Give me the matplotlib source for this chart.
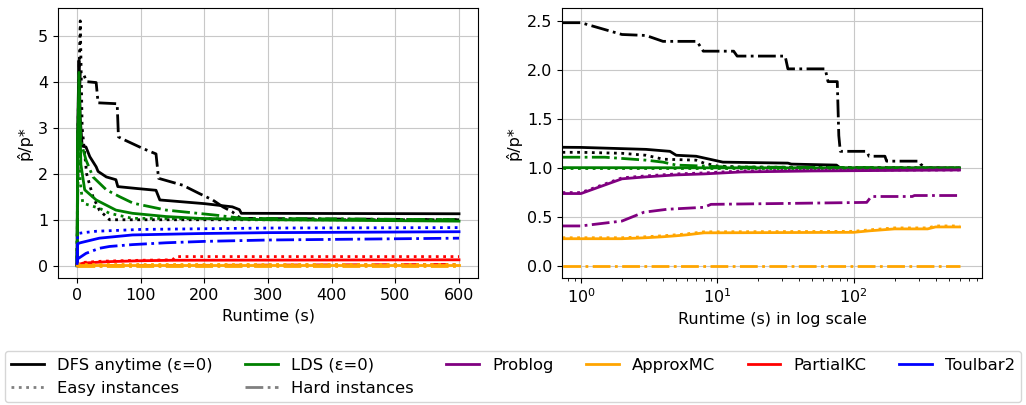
import matplotlib.pyplot as plt
from matplotlib.lines import Line2D

# ---- left panel: runtime in seconds (linear) ----
l_dfs_all_t = [0, 1, 3, 5, 8, 14, 20, 30, 33, 46, 61, 64, 93, 124, 130, 200, 244, 255, 258, 600]
l_dfs_all_v = [0, 3.0, 4.46, 3.2, 2.6, 2.58, 2.37, 2.15, 2.05, 1.93, 1.87, 1.72, 1.68, 1.64, 1.43, 1.35, 1.28, 1.22, 1.14, 1.13]
l_dfs_easy_t = [0, 2, 5, 8, 15, 25, 35, 51, 600]
l_dfs_easy_v = [0, 3.5, 5.32, 3.0, 2.0, 1.5, 1.21, 1.0, 1.0]
l_dfs_hard_t = [0, 2, 5, 10, 15, 30, 33, 63, 65, 72, 103, 124, 128, 166, 192, 213, 229, 244, 257, 600]
l_dfs_hard_v = [0, 3.0, 4.2, 4.17, 4.0, 3.98, 3.54, 3.52, 2.80, 2.75, 2.55, 2.43, 1.9, 1.75, 1.57, 1.43, 1.28, 1.17, 1.03, 1.0]

l_lds_all_t = [0, 1, 3, 6, 12, 30, 61, 87, 140, 192, 300, 600]
l_lds_all_v = [0, 2.5, 4.2, 2.2, 1.65, 1.43, 1.21, 1.14, 1.07, 1.03, 1.0, 0.97]
l_lds_easy_t = [0, 1, 3, 5, 9, 35, 51, 87, 600]
l_lds_easy_v = [0, 2.0, 3.6, 1.8, 1.36, 1.25, 1.14, 1.03, 1.0]
l_lds_hard_t = [0, 1, 3, 6, 14, 25, 46, 67, 88, 140, 218, 260, 600]
l_lds_hard_v = [0, 2.8, 3.5, 2.7, 2.3, 1.93, 1.65, 1.5, 1.36, 1.21, 1.1, 1.03, 1.0]

l_amc_all_t = [0, 600]
l_amc_all_v = [0.02, 0.02]
l_amc_easy_t = [0, 600]
l_amc_easy_v = [0.03, 0.03]
l_amc_hard_t = [0, 600]
l_amc_hard_v = [0.0, 0.0]

l_pkc_all_t = [0, 10, 50, 100, 150, 600]
l_pkc_all_v = [0.02, 0.06, 0.09, 0.11, 0.12, 0.13]
l_pkc_easy_t = [0, 5, 40, 100, 150, 155, 600]
l_pkc_easy_v = [0.03, 0.07, 0.10, 0.12, 0.13, 0.2, 0.2]
l_pkc_hard_t = [0, 600]
l_pkc_hard_v = [0.0, 0.03]

l_tb2_all_t = [0, 1, 5, 14, 35, 87, 192, 300, 600]
l_tb2_all_v = [0.05, 0.48, 0.50, 0.53, 0.60, 0.67, 0.70, 0.72, 0.74]
l_tb2_easy_t = [0, 1, 10, 30, 100, 300, 600]
l_tb2_easy_v = [0.1, 0.70, 0.72, 0.75, 0.79, 0.82, 0.83]
l_tb2_hard_t = [0, 1, 14, 35, 51, 87, 140, 200, 300, 600]
l_tb2_hard_v = [0.05, 0.15, 0.27, 0.38, 0.42, 0.46, 0.50, 0.53, 0.56, 0.60]

# ---- right panel: runtime in seconds (log) ----
r_dfs_all_t = [0.1, 1, 3, 4.5, 5, 7, 11, 33, 35, 75, 80, 600]
r_dfs_all_v = [1.22, 1.21, 1.19, 1.17, 1.13, 1.12, 1.06, 1.05, 1.04, 1.03, 1.0, 1.0]
r_dfs_easy_t = [0.1, 1, 2, 3, 4, 7, 8, 10, 15, 600]
r_dfs_easy_v = [1.16, 1.16, 1.15, 1.13, 1.09, 1.08, 1.05, 1.02, 1.01, 1.0]
r_dfs_hard_t = [0.1, 1, 2, 3, 4, 7.1, 7.9, 13.2, 14, 31.5, 33, 62, 65, 76, 78, 80, 125, 130, 170, 175, 300, 310, 340, 600]
r_dfs_hard_v = [2.48, 2.48, 2.36, 2.35, 2.29, 2.29, 2.19, 2.19, 2.14, 2.14, 2.01, 2.01, 1.88, 1.88, 1.33, 1.17, 1.17, 1.12, 1.12, 1.07, 1.07, 1.04, 1.0, 1.0]

r_lds_all_t = [0.1, 600]
r_lds_all_v = [1.005, 1.0]
r_lds_easy_t = [0.1, 600]
r_lds_easy_v = [1.0, 1.0]
r_lds_hard_t = [0.1, 1.5, 3, 4, 5, 8, 12, 600]
r_lds_hard_v = [1.11, 1.11, 1.08, 1.06, 1.03, 1.02, 1.01, 1.0]

r_pb_all_t = [0.1, 1, 2, 3, 5, 8, 15, 50, 600]
r_pb_all_v = [0.74, 0.74, 0.89, 0.91, 0.93, 0.94, 0.96, 0.97, 0.98]
r_pb_easy_t = [0.1, 1, 2, 3, 5, 8, 15, 50, 600]
r_pb_easy_v = [0.75, 0.75, 0.90, 0.92, 0.94, 0.95, 0.97, 0.98, 0.98]
r_pb_hard_t = [0.1, 1, 2, 2.9, 4.3, 8, 9, 35, 125, 135, 270, 280, 600]
r_pb_hard_v = [0.41, 0.41, 0.46, 0.55, 0.58, 0.60, 0.63, 0.64, 0.65, 0.71, 0.71, 0.72, 0.72]

r_amc_all_t = [0.1, 2, 3, 4, 5, 6, 8, 100, 130, 200, 350, 400, 600]
r_amc_all_v = [0.28, 0.28, 0.29, 0.30, 0.31, 0.32, 0.34, 0.345, 0.36, 0.38, 0.38, 0.40, 0.40]
r_amc_easy_t = [0.1, 2, 3, 4, 5, 6, 8, 100, 130, 200, 350, 400, 600]
r_amc_easy_v = [0.29, 0.29, 0.30, 0.31, 0.32, 0.33, 0.35, 0.355, 0.37, 0.39, 0.39, 0.41, 0.41]
r_amc_hard_t = [0.1, 600]
r_amc_hard_v = [0.0, 0.0]

FS = 11.5
LW = 2.0
plt.rcParams['font.size'] = FS

fig = plt.figure(figsize=(10.26, 4.05), dpi=100)
ax1 = fig.add_axes([0.0565, 0.3136, 0.4095, 0.6667])
ax2 = fig.add_axes([0.548, 0.3136, 0.409, 0.6667])

left_series = [
    (l_dfs_all_t, l_dfs_all_v, 'black', '-'),
    (l_dfs_easy_t, l_dfs_easy_v, 'black', ':'),
    (l_dfs_hard_t, l_dfs_hard_v, 'black', '-.'),
    (l_lds_all_t, l_lds_all_v, 'green', '-'),
    (l_lds_easy_t, l_lds_easy_v, 'green', ':'),
    (l_lds_hard_t, l_lds_hard_v, 'green', '-.'),
    (l_pkc_all_t, l_pkc_all_v, 'red', '-'),
    (l_pkc_easy_t, l_pkc_easy_v, 'red', ':'),
    (l_pkc_hard_t, l_pkc_hard_v, 'red', '-.'),
    (l_amc_all_t, l_amc_all_v, 'orange', '-'),
    (l_amc_easy_t, l_amc_easy_v, 'orange', ':'),
    (l_amc_hard_t, l_amc_hard_v, 'orange', '-.'),
    (l_tb2_all_t, l_tb2_all_v, 'blue', '-'),
    (l_tb2_easy_t, l_tb2_easy_v, 'blue', ':'),
    (l_tb2_hard_t, l_tb2_hard_v, 'blue', '-.'),
]
for t, v, c, ls in left_series:
    ax1.plot(t, v, color=c, linestyle=ls, linewidth=LW)

right_series = [
    (r_dfs_all_t, r_dfs_all_v, 'black', '-'),
    (r_dfs_easy_t, r_dfs_easy_v, 'black', ':'),
    (r_dfs_hard_t, r_dfs_hard_v, 'black', '-.'),
    (r_lds_all_t, r_lds_all_v, 'green', '-'),
    (r_lds_easy_t, r_lds_easy_v, 'green', ':'),
    (r_lds_hard_t, r_lds_hard_v, 'green', '-.'),
    (r_pb_all_t, r_pb_all_v, 'purple', '-'),
    (r_pb_easy_t, r_pb_easy_v, 'purple', ':'),
    (r_pb_hard_t, r_pb_hard_v, 'purple', '-.'),
    (r_amc_all_t, r_amc_all_v, 'orange', '-'),
    (r_amc_easy_t, r_amc_easy_v, 'orange', ':'),
    (r_amc_hard_t, r_amc_hard_v, 'orange', '-.'),
]
for t, v, c, ls in right_series:
    ax2.plot(t, v, color=c, linestyle=ls, linewidth=LW)

ax1.set_xlim(-30, 630)
ax1.set_ylim(-0.265, 5.6)
ax1.set_xticks([0, 100, 200, 300, 400, 500, 600])
ax1.set_yticks([0, 1, 2, 3, 4, 5])
ax1.set_xlabel('Runtime (s)')
ax1.set_ylabel('p\u0302/p*')
ax1.grid(True, color='#c8c8c8')

ax2.set_xscale('log')
ax2.set_xlim(0.729, 875)
ax2.set_ylim(-0.12, 2.63)
ax2.set_yticks([0.0, 0.5, 1.0, 1.5, 2.0, 2.5])
ax2.set_xlabel('Runtime (s) in log scale')
ax2.set_ylabel('p\u0302/p*')
ax2.grid(True, color='#c8c8c8')

for ax in (ax1, ax2):
    ax.set_axisbelow(True)
    ax.tick_params(labelsize=FS)

handles = [
    Line2D([], [], color='black', lw=LW),
    Line2D([], [], color='grey', lw=LW, linestyle=':'),
    Line2D([], [], color='green', lw=LW),
    Line2D([], [], color='grey', lw=LW, linestyle='-.'),
    Line2D([], [], color='purple', lw=LW),
    Line2D([], [], color='orange', lw=LW),
    Line2D([], [], color='red', lw=LW),
    Line2D([], [], color='blue', lw=LW),
]
labels = ['DFS anytime (\u03b5=0)', 'Easy instances', 'LDS (\u03b5=0)', 'Hard instances',
          'Problog', 'ApproxMC', 'PartialKC', 'Toulbar2']
fig.legend(handles, labels, loc='upper center', bbox_to_anchor=(0.5, 0.153),
           ncol=6, fontsize=11.75, frameon=True)

fig.savefig('out.png', dpi=100)
